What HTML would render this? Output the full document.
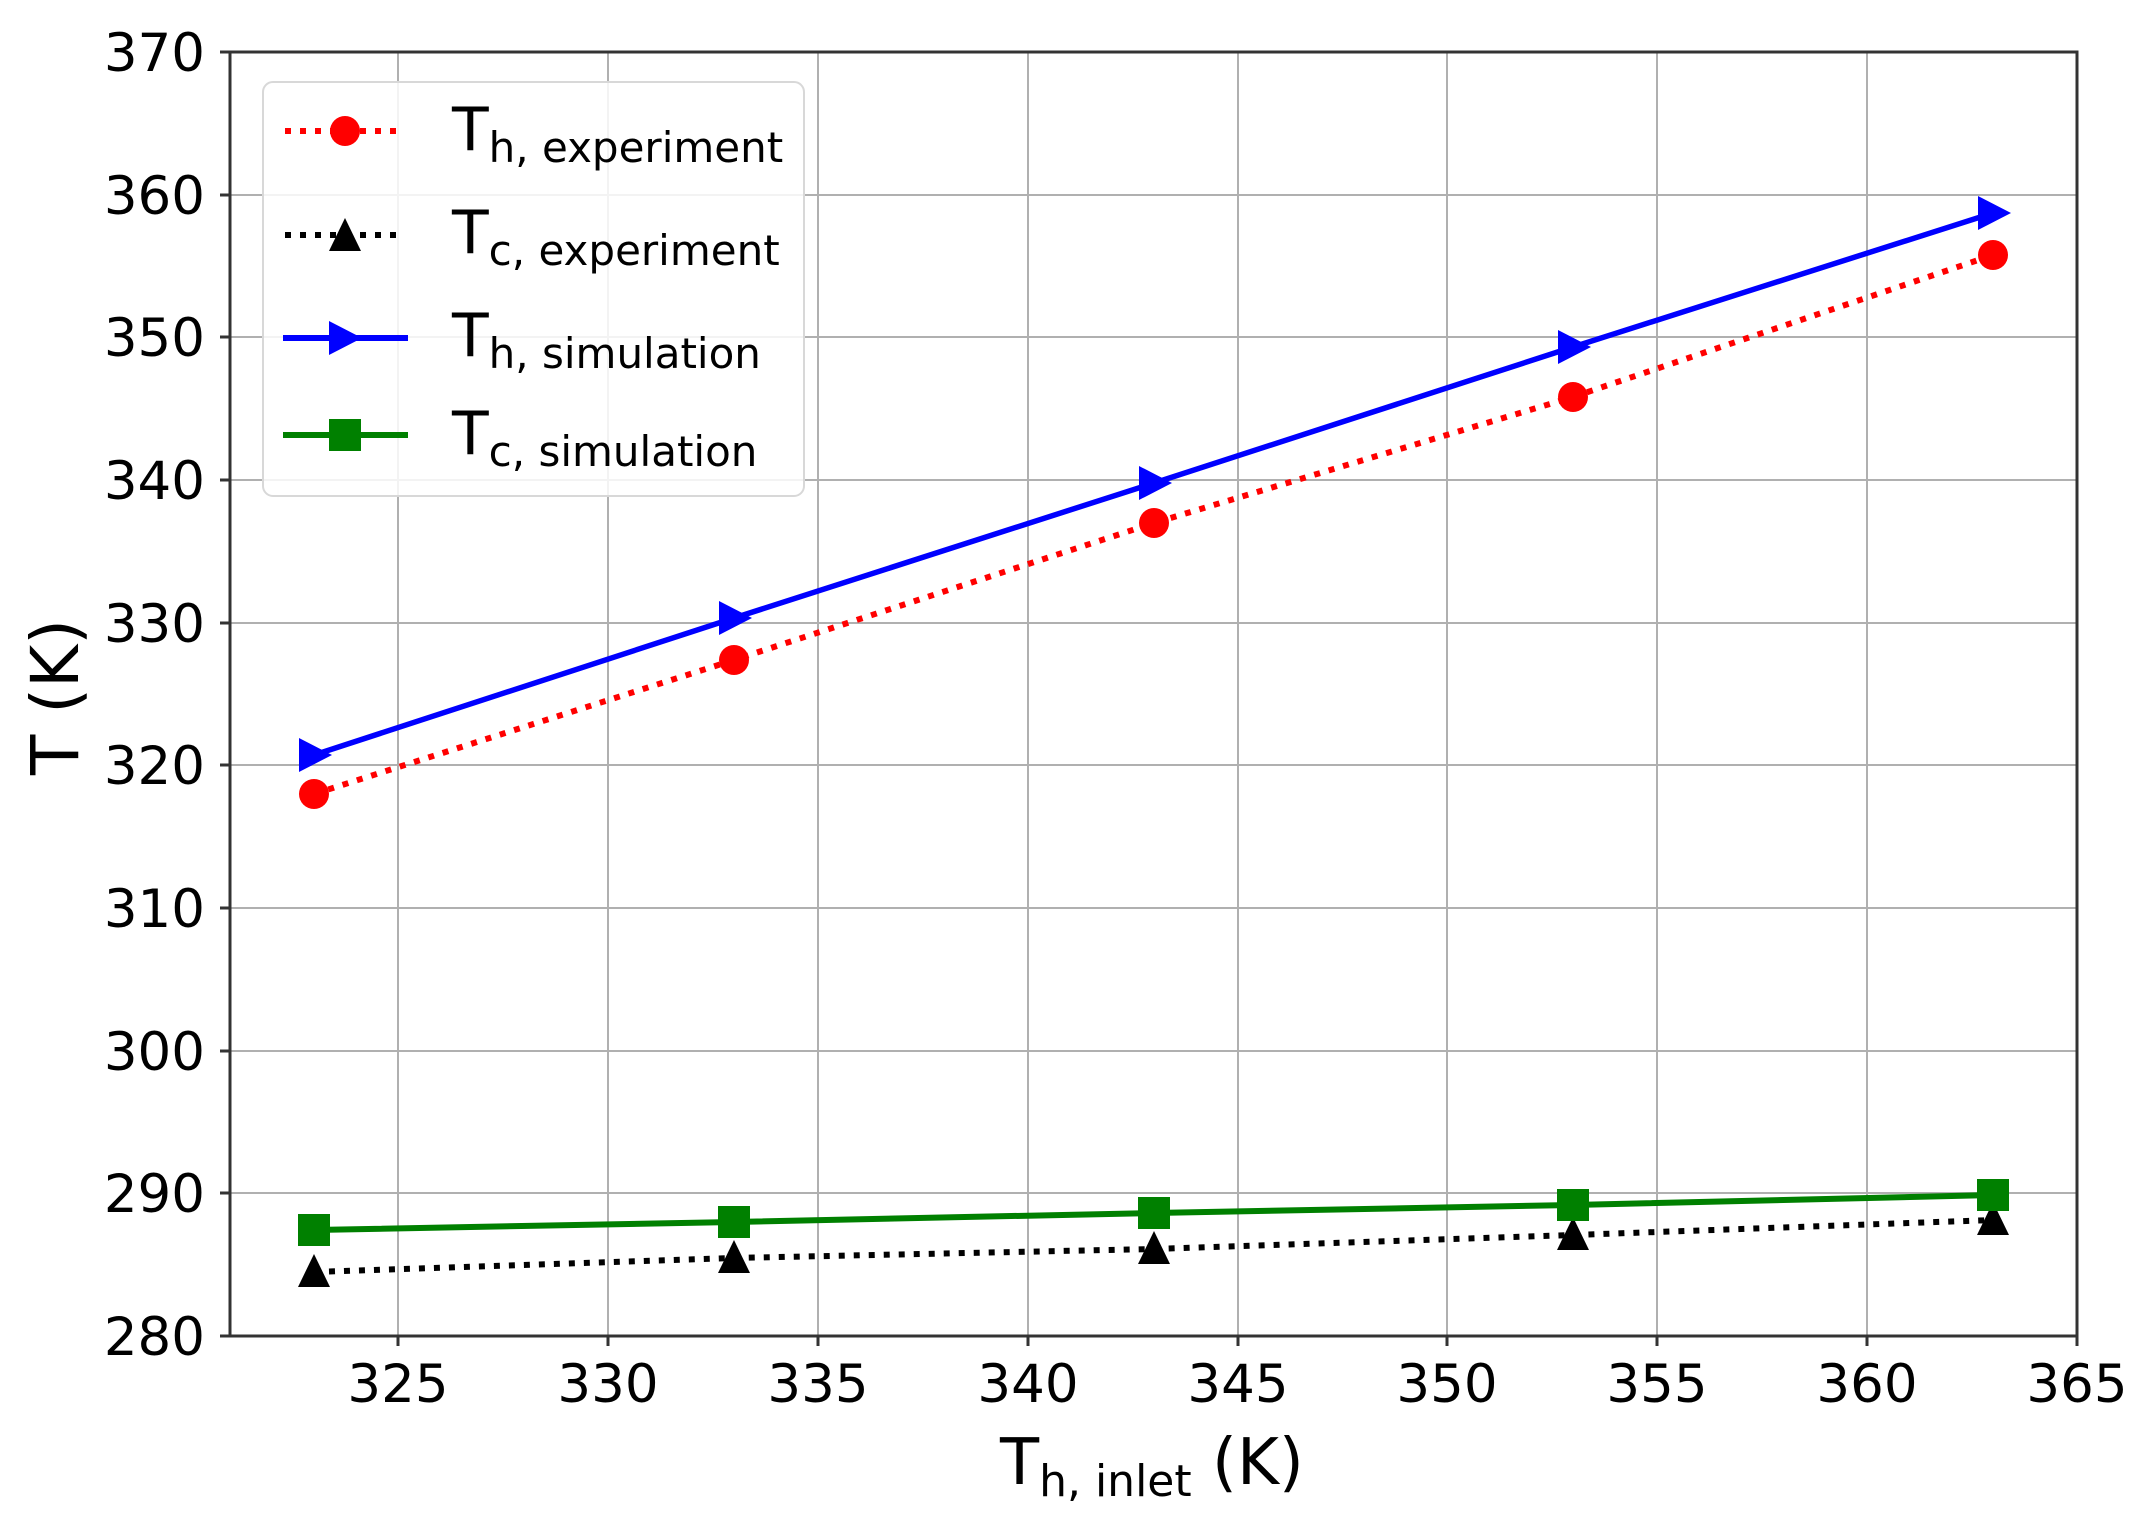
<!DOCTYPE html>
<html><head><meta charset="utf-8"><style>body{margin:0;background:#fff}svg{display:block}</style></head>
<body>
<svg width="2144" height="1517" viewBox="0 0 2144 1517" xmlns="http://www.w3.org/2000/svg" font-family="DejaVu Sans, Liberation Sans, sans-serif">
<rect width="2144" height="1517" fill="#fff"/>
<g stroke="#b0b0b0" stroke-width="2">
<line x1="398" y1="52" x2="398" y2="1336"/><line x1="608" y1="52" x2="608" y2="1336"/><line x1="818" y1="52" x2="818" y2="1336"/><line x1="1028" y1="52" x2="1028" y2="1336"/><line x1="1238" y1="52" x2="1238" y2="1336"/><line x1="1447" y1="52" x2="1447" y2="1336"/><line x1="1657" y1="52" x2="1657" y2="1336"/><line x1="1867" y1="52" x2="1867" y2="1336"/>
<line x1="230" y1="195" x2="2077" y2="195"/><line x1="230" y1="337" x2="2077" y2="337"/><line x1="230" y1="480" x2="2077" y2="480"/><line x1="230" y1="623" x2="2077" y2="623"/><line x1="230" y1="765" x2="2077" y2="765"/><line x1="230" y1="908" x2="2077" y2="908"/><line x1="230" y1="1051" x2="2077" y2="1051"/><line x1="230" y1="1193" x2="2077" y2="1193"/>
</g>
<polyline points="314,1272 734,1258 1154,1249 1573,1235 1993,1220" fill="none" stroke="#000" stroke-width="6" stroke-dasharray="6,9"/>
<polyline points="314,1230 734,1222 1154,1213 1573,1205 1993,1195" fill="none" stroke="#008000" stroke-width="6"/>
<polyline points="314,794 734,660 1154,523 1573,397 1993,255" fill="none" stroke="#ff0000" stroke-width="6" stroke-dasharray="6,9"/>
<polyline points="314,755 734,618 1154,483 1573,347 1993,213" fill="none" stroke="#0000ff" stroke-width="5.5"/>
<g fill="#000">
<polygon points="314,1254 298,1287 330,1287"/><polygon points="734,1240 718,1273 750,1273"/><polygon points="1154,1231 1138,1264 1170,1264"/><polygon points="1573,1217 1557,1250 1589,1250"/><polygon points="1993,1202 1977,1235 2009,1235"/>
</g>
<g fill="#008000">
<rect x="298" y="1214" width="32" height="32"/><rect x="718" y="1206" width="32" height="32"/><rect x="1138" y="1197" width="32" height="32"/><rect x="1557" y="1189" width="32" height="32"/><rect x="1977" y="1179" width="32" height="32"/>
</g>
<g fill="#ff0000">
<circle cx="314" cy="794" r="15"/><circle cx="734" cy="660" r="15"/><circle cx="1154" cy="523" r="15"/><circle cx="1573" cy="397" r="15"/><circle cx="1993" cy="255" r="15"/>
</g>
<g fill="#0000ff">
<polygon points="299,738 332,755 299,772"/><polygon points="719,601 752,618 719,635"/><polygon points="1139,466 1172,483 1139,500"/><polygon points="1558,330 1591,347 1558,364"/><polygon points="1978,196 2011,213 1978,230"/>
</g>
<rect x="230" y="52" width="1847" height="1284" fill="none" stroke="#333" stroke-width="3"/>
<g stroke="#333" stroke-width="3">
<line x1="398" y1="1336" x2="398" y2="1346"/><line x1="608" y1="1336" x2="608" y2="1346"/><line x1="818" y1="1336" x2="818" y2="1346"/><line x1="1028" y1="1336" x2="1028" y2="1346"/><line x1="1238" y1="1336" x2="1238" y2="1346"/><line x1="1447" y1="1336" x2="1447" y2="1346"/><line x1="1657" y1="1336" x2="1657" y2="1346"/><line x1="1867" y1="1336" x2="1867" y2="1346"/><line x1="2077" y1="1336" x2="2077" y2="1346"/>
<line x1="220" y1="52" x2="230" y2="52"/><line x1="220" y1="195" x2="230" y2="195"/><line x1="220" y1="337" x2="230" y2="337"/><line x1="220" y1="480" x2="230" y2="480"/><line x1="220" y1="623" x2="230" y2="623"/><line x1="220" y1="765" x2="230" y2="765"/><line x1="220" y1="908" x2="230" y2="908"/><line x1="220" y1="1051" x2="230" y2="1051"/><line x1="220" y1="1193" x2="230" y2="1193"/><line x1="220" y1="1336" x2="230" y2="1336"/>
</g>
<g font-size="53" fill="#000" text-anchor="middle">
<text x="398" y="1402">325</text><text x="608" y="1402">330</text><text x="818" y="1402">335</text><text x="1028" y="1402">340</text><text x="1238" y="1402">345</text><text x="1447" y="1402">350</text><text x="1657" y="1402">355</text><text x="1867" y="1402">360</text><text x="2077" y="1402">365</text>
</g>
<g font-size="53" fill="#000" text-anchor="end">
<text x="205" y="71">370</text><text x="205" y="214">360</text><text x="205" y="356">350</text><text x="205" y="499">340</text><text x="205" y="642">330</text><text x="205" y="784">320</text><text x="205" y="927">310</text><text x="205" y="1070">300</text><text x="205" y="1212">290</text><text x="205" y="1355">280</text>
</g>
<text x="1000" y="1484" font-size="64" fill="#000">T<tspan font-size="44" dy="12">h, inlet</tspan><tspan dy="-12"> (K)</tspan></text>
<text transform="translate(78,697) rotate(-90)" font-size="66" fill="#000" text-anchor="middle">T (K)</text>
<rect x="263" y="82" width="541" height="414" rx="10" fill="#fff" fill-opacity="0.85" stroke="#d8d8d8" stroke-width="2"/>
<line x1="285" y1="131" x2="405" y2="131" stroke="#ff0000" stroke-width="6" stroke-dasharray="6,9"/><circle cx="345" cy="131" r="15" fill="#ff0000"/>
<line x1="285" y1="235" x2="405" y2="235" stroke="#000" stroke-width="6" stroke-dasharray="6,9"/><polygon points="345,218 329,251 361,251" fill="#000"/>
<line x1="283" y1="338" x2="408" y2="338" stroke="#0000ff" stroke-width="6"/><polygon points="329,321 362,338 329,355" fill="#0000ff"/>
<line x1="283" y1="435" x2="408" y2="435" stroke="#008000" stroke-width="6"/><rect x="329" y="419" width="32" height="32" fill="#008000"/>
<g font-size="60" fill="#000">
<text x="452" y="150">T<tspan font-size="42" dy="12">h, experiment</tspan></text>
<text x="452" y="253">T<tspan font-size="42" dy="12">c, experiment</tspan></text>
<text x="452" y="356">T<tspan font-size="42" dy="12">h, simulation</tspan></text>
<text x="452" y="454">T<tspan font-size="42" dy="12">c, simulation</tspan></text>
</g>
</svg>
</body></html>
